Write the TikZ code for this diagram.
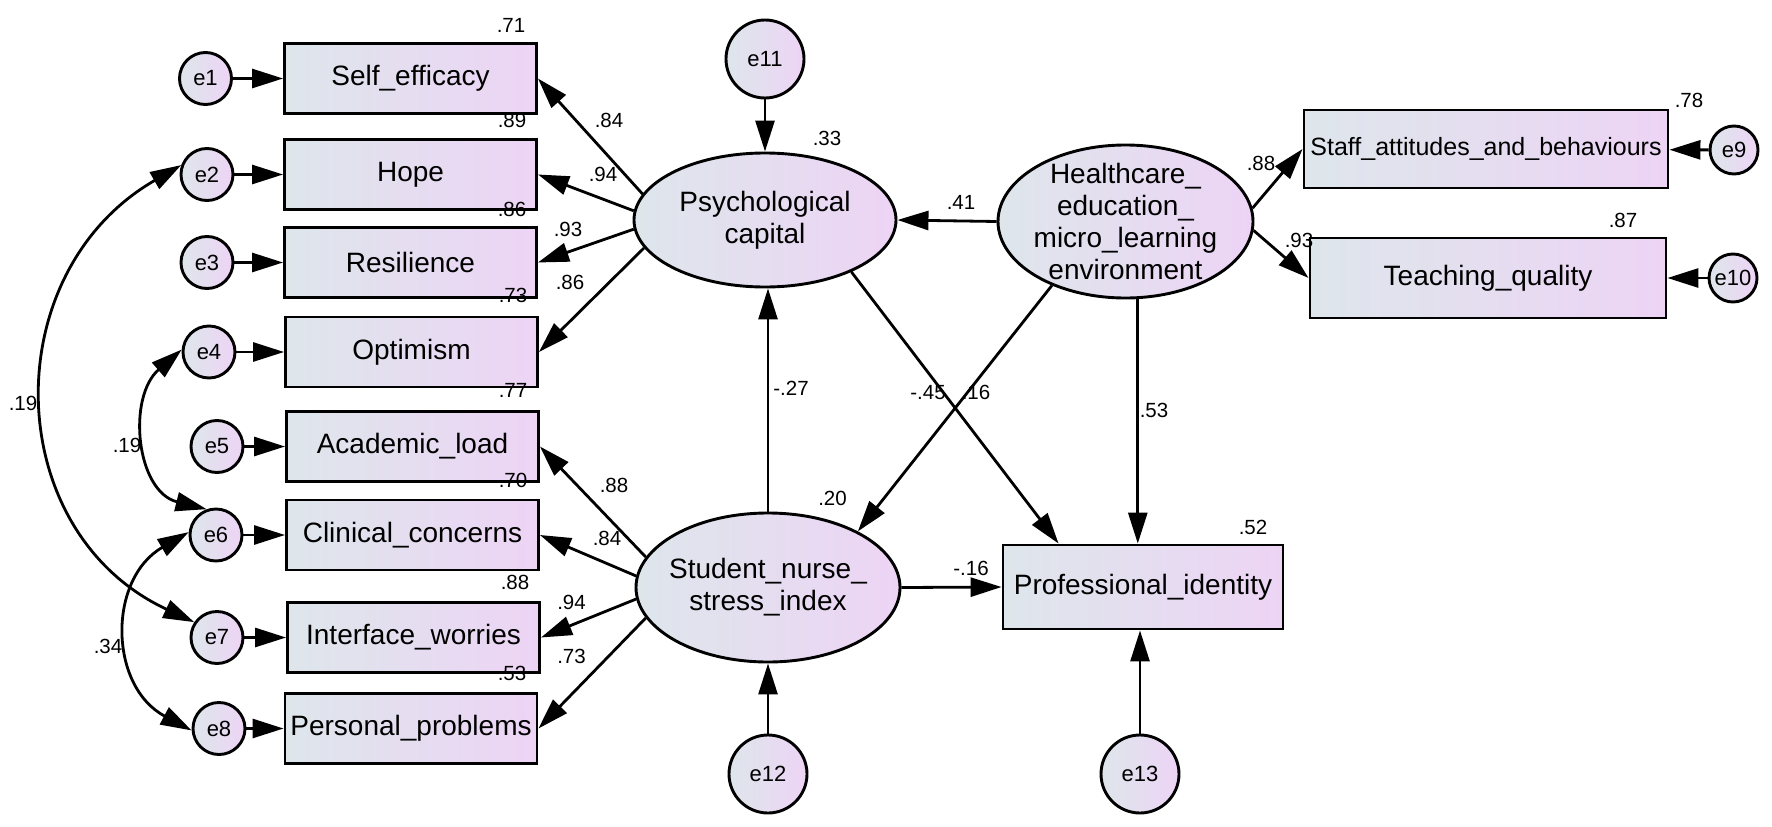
\documentclass[tikz,border=0pt]{standalone}
\usepackage{fontspec}
\setmainfont{Liberation Sans}
\usetikzlibrary{shapes.geometric,arrows.meta}
\definecolor{cA}{RGB}{222,230,235}
\definecolor{cB}{RGB}{237,212,245}
\begin{document}
\begin{tikzpicture}[x=1pt,y=1pt,
 obs/.style={draw=black, line width=2.9pt, left color=cA, right color=cB, minimum width=252pt, minimum height=70pt, inner sep=0pt, font=\fontsize{28}{32}\selectfont},
 err/.style={circle, draw=black, line width=2.9pt, left color=cA, right color=cB, minimum size=52pt, inner sep=0pt, font=\fontsize{22}{26}\selectfont},
 lat/.style={ellipse, draw=black, line width=2.9pt, left color=cA, right color=cB, inner sep=0pt},
 lattext/.style={align=center, font=\fontsize{28}{32}\selectfont, inner sep=0pt},
 num/.style={font=\fontsize{20.5}{24}\selectfont, inner sep=0pt},
 arr/.style={line width=2.8pt, -{Triangle[length=31pt,width=19pt]}},
 cov/.style={line width=2.8pt, {Triangle[length=31pt,width=19pt]}-{Triangle[length=31pt,width=19pt]}},
]
\useasboundingbox (0,0) rectangle (1772,-827);

% observed indicators (left)
\node[obs] (self) at (410.5,-78.5) {Self\_efficacy};
\node[obs] (hope) at (410.5,-174.5) {Hope};
\node[obs] (res)  at (410.5,-262.5) {Resilience};
\node[obs] (opt)  at (411.5,-352) {Optimism};
\node[obs] (acad) at (412.5,-446.5) {Academic\_load};
\node[obs] (clin) at (412.5,-535) {Clinical\_concerns};
\node[obs] (intf) at (413.5,-637.5) {Interface\_worries};
\node[obs] (pers) at (411,-728.5) {Personal\_problems};

% error terms (left)
\node[err] (e1) at (205.5,-78.5) {e1};
\node[err] (e2) at (207,-174.5) {e2};
\node[err] (e3) at (207,-262.5) {e3};
\node[err] (e4) at (209,-352) {e4};
\node[err] (e5) at (217,-446.5) {e5};
\node[err] (e6) at (216,-535) {e6};
\node[err] (e7) at (217,-637.5) {e7};
\node[err] (e8) at (219,-728.5) {e8};

% latent variables
\node[lat, minimum width=262pt, minimum height=134pt,
  label={[lattext]center:{Psychological\\capital}}] (psy) at (765,-220) {};
\node[lat, minimum width=264pt, minimum height=149pt,
  label={[lattext]center:{Student\_nurse\_\\stress\_index}}] (student) at (768,-587.5) {};
\node[lat, minimum width=255pt, minimum height=153pt,
  label={[lattext]center:{Healthcare\_\\education\_\\micro\_learning\\environment}}] (health) at (1125.5,-221.5) {};

% right side
\node[obs, minimum width=280pt, minimum height=84pt] (prof) at (1143,-587) {Professional\_identity};
\node[obs, minimum width=364pt, minimum height=78pt, font=\fontsize{25}{29}\selectfont] (staff) at (1486,-149) {Staff\_attitudes\_and\_behaviours};
\node[obs, minimum width=356pt, minimum height=80pt] (teach) at (1488,-278) {Teaching\_quality};
\node[err, minimum size=48pt] (e9) at (1734,-150) {e9};
\node[err, minimum size=48pt] (e10) at (1733,-278) {e10};
\node[err, minimum size=78pt] (e11) at (765,-59) {e11};
\node[err, minimum size=78pt] (e12) at (768,-774) {e12};
\node[err, minimum size=78pt] (e13) at (1140,-774) {e13};

% error arrows
\draw[arr] (e1) -- (self);
\draw[arr] (e2) -- (hope);
\draw[arr] (e3) -- (res);
\draw[arr] (e4) -- (opt);
\draw[arr] (e5) -- (acad);
\draw[arr] (e6) -- (clin);
\draw[arr] (e7) -- (intf);
\draw[arr] (e8) -- (pers);
\draw[arr] (e9) -- (staff);
\draw[arr] (e10) -- (teach);
\draw[arr] (e11.south) -- (psy.north);
\draw[arr] (e12.north) -- (student.south);
\draw[arr] (e13.north) -- (e13.north |- prof.south);

% loadings
\draw[arr] (psy.168) -- (self.east);
\draw[arr] (psy.176) -- (hope.east);
\draw[arr] (psy.184) -- (res.east);
\draw[arr] (psy.193) -- (opt.east);
\draw[arr] (student.166) -- (acad.east);
\draw[arr] (student.175.5) -- (clin.east);
\draw[arr] (student.185.4) -- (intf.east);
\draw[arr] (student.194) -- (pers.east);
\draw[arr] (health.6) -- (staff.west);
\draw[arr] (health.356) -- (teach.west);

% structural paths
\draw[arr] (health.west) -- (psy.east);
\draw[arr] (health.221) -- (student.32);
\draw[arr] (health.279) -- (health.279 |- prof.north);
\draw[arr] (psy.329) -- ([xshift=57pt]prof.north west);
\draw[arr] (student.north) -- (student.north |- psy.south);
\draw[arr] (student.east) -- (prof.west);

% covariances
\draw[cov] (e2.160) to[out=210,in=155,looseness=1.2] (e7.146);
\draw[cov] (e4.175) to[out=221,in=166,looseness=1.15] (e6.110);
\draw[cov] (e6.174) to[out=210,in=152,looseness=1.21] (e8.184);

% numbers
\node[num] (r1) at (511,-25) {.71};
\node[num] (r2) at (512,-120) {.89};
\node[num] (r3) at (512,-209) {.86};
\node[num] (r4) at (513,-295) {.73};
\node[num] (r5) at (513,-390) {.77};
\node[num] (r6) at (513,-480) {.70};
\node[num] (r7) at (515,-582) {.88};
\node[num] (r8) at (512,-673) {.53};
\node[num] (w1) at (609,-120) {.84};
\node[num] (w2) at (603,-174) {.94};
\node[num] (w3) at (568,-229) {.93};
\node[num] (w4) at (570,-282) {.86};
\node[num] (w5) at (614,-485) {.88};
\node[num] (w6) at (607,-538) {.84};
\node[num] (w7) at (571.5,-602) {.94};
\node[num] (w8) at (571.5,-656) {.73};
\node[num] (r33) at (827,-138) {.33};
\node[num] (p41) at (961,-202) {.41};
\node[num] (p27) at (791,-388) {-.27};
\node[num] (p45) at (928,-393) {-.45};
\node[num] (p16) at (976,-392) {.16};
\node[num] (r20) at (832.5,-498) {.20};
\node[num] (p16b) at (971,-568) {-.16};
\node[num] (p53) at (1154,-410) {.53};
\node[num] (r52) at (1253,-527) {.52};
\node[num] (r78) at (1689,-100) {.78};
\node[num] (r87) at (1623,-220) {.87};
\node[num] (w88) at (1261,-163) {.88};
\node[num] (w93) at (1299,-240) {.93};
\node[num] (c1) at (23,-403) {.19};
\node[num] (c2) at (127,-445) {.19};
\node[num] (c3) at (108,-646) {.34};
\end{tikzpicture}
\end{document}
